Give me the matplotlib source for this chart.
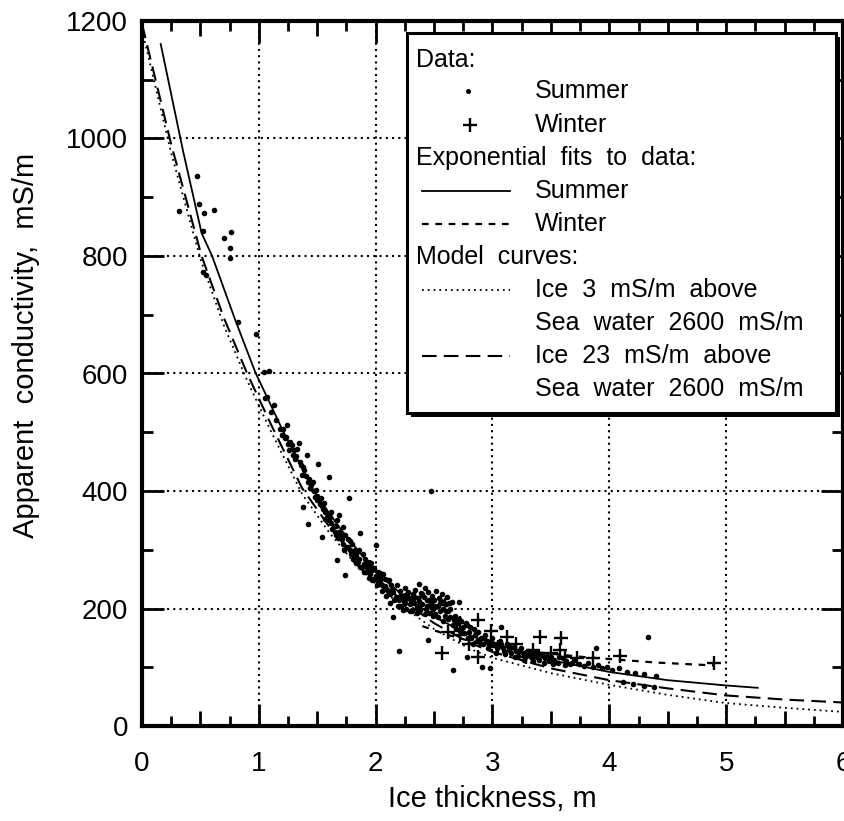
import matplotlib
matplotlib.use("Agg")
import matplotlib.pyplot as plt
from matplotlib.lines import Line2D
from matplotlib.patches import Rectangle
from matplotlib.ticker import MultipleLocator, FixedLocator

plt.rcParams['font.family'] = ['Liberation Sans', 'DejaVu Sans']

# ---------------- data ----------------
summer_x = [0.47, 0.32, 0.49, 0.53, 0.62, 0.76, 0.70, 0.75, 0.75, 0.52, 0.52, 0.55, 0.82, 0.98, 1.04, 1.09, 1.07, 1.13, 1.05,
            1.10, 1.15, 1.18, 1.20, 1.22, 1.25, 1.27, 1.30, 1.32, 1.34, 1.35, 1.38, 1.38, 1.40, 1.41, 1.42, 1.42, 1.45, 1.47, 1.48,
            1.50, 1.51, 1.52, 1.54, 1.55, 1.57, 1.58, 1.60, 1.60, 1.62, 1.63, 1.65, 1.66, 1.67, 1.68, 1.69, 1.70, 1.72, 1.74, 1.75,
            1.76, 1.77, 1.78, 1.80, 1.81, 1.83, 1.85, 1.86, 1.87, 1.88, 1.90, 1.92, 1.93, 1.95, 1.97, 1.98, 2.00, 2.00, 2.02, 2.04,
            2.05, 2.07, 2.08, 2.10, 2.12, 2.13, 2.15, 2.15, 2.17,
            2.20, 2.20, 2.21, 2.22, 2.23, 2.24, 2.25, 2.26, 2.27, 2.28, 2.29, 2.30, 2.31, 2.32, 2.33, 2.34, 2.35, 2.36, 2.37, 2.37,
            2.38, 2.39, 2.40, 2.41, 2.42, 2.43, 2.44, 2.45, 2.45, 2.46, 2.47, 2.47, 2.48, 2.49, 2.50, 2.51, 2.52, 2.53, 2.54, 2.55,
            2.56, 2.57, 2.58, 2.59, 2.60, 2.61, 2.62, 2.63, 2.64, 2.65, 2.66,
            2.67, 2.68, 2.70, 2.71, 2.72, 2.73, 2.75, 2.76, 2.78, 2.78, 2.80, 2.82, 2.84, 2.85, 2.87, 2.88, 2.90, 2.91, 2.92, 2.94,
            2.95, 2.97, 2.98, 3.00, 3.02, 3.04, 3.06, 3.07, 3.08, 3.10, 3.12, 3.14, 3.16, 3.18, 3.20, 3.22, 3.24, 3.26, 3.28, 3.30,
            3.32, 3.34, 3.36, 3.38, 3.40, 3.42, 3.45, 3.48, 3.50, 3.53, 3.56, 3.60, 3.63, 3.66, 3.70, 3.74, 3.78, 3.82, 3.86, 3.89,
            3.90, 3.94, 3.98, 4.02, 4.08, 4.15, 4.22, 4.30, 4.33, 4.40, 4.12, 4.20, 4.30, 4.38,
            1.21, 1.23, 1.24, 1.26, 1.28, 1.29, 1.31, 1.33, 1.36, 1.37, 1.39, 1.43, 1.44, 1.46, 1.49, 1.50, 1.53, 1.54, 1.56, 1.57,
            1.59, 1.61, 1.62, 1.64, 1.66, 1.67, 1.69, 1.71, 1.72, 1.73, 1.74, 1.76, 1.78, 1.79, 1.80, 1.82, 1.83, 1.84, 1.86, 1.87,
            1.89, 1.90, 1.91, 1.93, 1.94, 1.96, 1.97, 1.99, 2.01, 2.02, 2.03, 2.05, 2.06, 2.08, 2.09, 2.11, 2.12, 2.14, 2.16, 2.18,
            2.19, 2.21, 2.23, 2.25, 2.27, 2.29, 2.31, 2.33, 2.35, 2.38, 2.40, 2.42, 2.44, 2.46, 2.49, 2.51, 2.53, 2.55, 2.58, 2.60,
            2.62, 2.64, 2.66, 2.68, 2.69, 2.71, 2.74, 2.77, 2.79, 2.81, 2.83, 2.86, 2.89, 2.93, 2.96, 2.99, 3.03, 3.07, 3.11, 3.15,
            3.19, 3.23, 3.27, 3.31, 3.35, 3.39, 3.44, 3.47, 3.52, 3.57, 3.62, 3.68]
summer_y = [937, 876, 888, 874, 879, 841, 830, 814, 796, 842, 773, 768, 688, 668, 603, 605, 560, 546, 558,
            535, 520, 505, 495, 490, 480, 484, 470, 460, 481, 450, 440, 373, 425, 461, 415, 344, 410, 400, 390,
            385, 446, 378, 322, 370, 365, 355, 424, 350, 345, 335, 330, 340, 283, 320, 359, 325, 310, 257, 305,
            318, 388, 300, 295, 285, 290, 280, 300, 329, 270, 275, 262, 280, 258, 265, 250, 308, 255, 245, 260,
            240, 235, 250, 232, 225, 240, 185, 228, 220,
            128, 215, 230, 205, 222, 212, 235, 200, 218, 228, 208, 215, 196, 225, 210, 232, 203, 218, 242, 212,
            198, 226, 207, 220, 235, 200, 214, 146, 228, 193, 400, 210, 222, 200, 215, 190, 230, 205, 218, 195,
            212, 225, 200, 188, 208, 220, 195, 210, 185, 211, 96,
            180, 170, 175, 211, 162, 178, 168, 158, 118, 172, 160, 150, 165, 155, 145, 160, 150, 101, 140, 155,
            145, 138, 98, 150, 140, 132, 145, 169, 135, 128, 140, 130, 125, 135, 128, 120, 132, 124, 118, 128,
            120, 115, 125, 118, 112, 122, 115, 110, 118, 112, 108, 115, 110, 105, 112, 106, 102, 108, 100, 132,
            104, 98, 100, 95, 98, 92, 90, 88, 152, 85, 75, 72, 68, 66,
            505, 492, 512, 470, 478, 462, 455, 472, 445, 428, 436, 420, 405, 415, 402, 392, 388, 375, 380, 352,
            360, 355, 365, 340, 325, 350, 330, 318, 338, 300, 325, 305, 315, 292, 310, 300, 278, 296, 285, 270,
            292, 262, 285, 270, 252, 278, 248, 268, 240, 262, 252, 230, 258, 238, 222, 248, 210, 232, 215, 240,
            205, 222, 198, 210, 225, 195, 215, 220, 192, 208, 225, 190, 205, 215, 188, 205, 185, 210, 178, 195,
            182, 200, 172, 188, 165, 182, 160, 175, 150, 168, 140, 158, 142, 150, 132, 145, 125, 140, 122, 135,
            118, 128, 112, 122, 110, 125, 108, 120, 105, 118, 103, 108]

winter_x = [1.95, 2.05, 2.25, 2.34, 2.48, 2.59, 2.57, 2.62, 2.72, 2.72, 2.80, 2.88, 2.88, 2.99, 3.05, 3.12, 3.20,
            3.29, 3.35, 3.41, 3.50, 3.58, 3.59, 3.62, 3.72, 3.86, 4.09, 4.90]
winter_y = [270, 250, 215, 220, 203, 206, 124, 160, 155, 175, 140, 180, 118, 161, 135, 152, 140,
            118, 129, 152, 125, 129, 149, 118, 115, 116, 119, 107]

# exponential fits
fit_summer_x = [0.16, 0.35, 0.51, 0.60, 0.80, 0.97, 1.20, 1.47, 1.70, 2.00, 2.20, 2.50, 2.80, 3.00, 3.50, 4.00, 4.50, 5.00, 5.27]
fit_summer_y = [1161, 980, 839, 800, 690, 602, 505, 400, 335, 262, 228, 186, 155, 140, 112, 92, 78, 69, 65]
fit_winter_x = [2.40, 2.60, 2.80, 3.00, 3.20, 3.40, 3.60, 3.80, 4.00, 4.20, 4.40, 4.60, 4.90]
fit_winter_y = [170, 156, 145, 137, 130, 125, 121, 117, 114, 111, 108, 106, 103]

# model curves
model3_x = [0.0, 0.25, 0.50, 0.70, 0.90, 1.10, 1.37, 1.60, 1.80, 2.00, 2.20, 2.50, 2.80, 3.00, 3.50, 4.00, 4.50, 5.00, 5.50, 6.00]
model3_y = [1185, 975, 795, 682, 588, 503, 395, 330, 282, 242, 208, 165, 132, 116, 90, 70, 53, 39, 31, 24]
model23_x = [0.0, 0.25, 0.51, 0.70, 0.90, 1.10, 1.37, 1.60, 1.80, 2.00, 2.20, 2.50, 2.80, 3.00, 3.50, 4.00, 4.50, 5.00, 5.50, 6.00]
model23_y = [1195, 990, 800, 695, 600, 515, 405, 340, 292, 252, 218, 175, 142, 126, 98, 78, 64, 52, 45, 40]

x_ticks = [0, 1, 2, 3, 4, 5, 6]
y_ticks = [0, 200, 400, 600, 800, 1000, 1200]

# ---------------- figure ----------------
W, H = 845, 821
fig = plt.figure(figsize=(W / 100, H / 100), dpi=100)
ax = fig.add_axes([142 / W, 1 - 726 / H, 701 / W, 705 / H])

ax.set_xlim(0, 6)
ax.set_ylim(0, 1200)

ls_grid = (0, (1.0, 2.0))
ax.grid(True, which='major', color='black', linestyle=ls_grid, linewidth=1.5)
ax.set_axisbelow(True)

ax.plot(model3_x, model3_y, color='black', lw=1.3, linestyle=(0, (1.0, 2.2)))
ax.plot(model23_x, model23_y, color='black', lw=1.5, linestyle=(0, (7, 3.5)))
ax.plot(fit_summer_x, fit_summer_y, color='black', lw=1.3, linestyle='-')
ax.plot(fit_winter_x, fit_winter_y, color='black', lw=1.6, linestyle=(0, (3, 3)))
ax.plot(summer_x, summer_y, linestyle='none', marker='o', markersize=3.0, color='black')
ax.plot(winter_x, winter_y, linestyle='none', marker='+', markersize=10, markeredgewidth=1.7, color='black')

ax.set_xticks(x_ticks)
ax.set_yticks(y_ticks)
minor_x = [q / 4 for q in range(25) if q % 4 != 0]
ax.xaxis.set_minor_locator(FixedLocator(minor_x))
ax.yaxis.set_minor_locator(MultipleLocator(100))

for sp in ax.spines.values():
    sp.set_linewidth(3)

ax.tick_params(which='both', direction='in', top=True, right=True, width=2, colors='black')
ax.tick_params(axis='x', which='major', length=16, pad=18, labelsize=20)
ax.tick_params(axis='y', which='major', length=16, pad=10, labelsize=20)
ax.tick_params(axis='x', which='minor', length=7)
ax.tick_params(axis='y', which='minor', length=8)
ax.set_xticklabels([str(v) for v in x_ticks])
ax.set_yticklabels([str(v) for v in y_ticks])

# half-unit minor ticks slightly longer
mticks = ax.xaxis.get_minor_ticks(len(minor_x))
for loc, t in zip(minor_x, mticks):
    if abs(loc * 2 - round(loc * 2)) < 1e-9:
        t.tick1line.set_markersize(11)
        t.tick2line.set_markersize(11)

ax.set_xlabel('Ice thickness, m', fontsize=21, labelpad=6)
ax.set_ylabel('Apparent  conductivity,  mS/m', fontsize=21)
ax.yaxis.set_label_coords(-0.145, 0.54)

# ---------------- legend box (drawn in figure pixels) ----------------
def fx(px):
    return px / W

def fy(py):
    return 1 - py / H

L, R, T, B = 407, 836, 33, 413
shadow = Rectangle((fx(L + 4), fy(B + 4)), fx(R) - fx(L), fy(T) - fy(B), transform=fig.transFigure,
                   facecolor='black', edgecolor='black', lw=0, zorder=5)
box = Rectangle((fx(L), fy(B)), fx(R) - fx(L), fy(T) - fy(B), transform=fig.transFigure,
                facecolor='white', edgecolor='black', lw=2.2, zorder=6)
fig.add_artist(shadow)
fig.add_artist(box)

fs = 18
tx_head = 416
tx_lab = 535
rows = [
    ('Data:', None, 60),
    ('Summer', 'dot', 91),
    ('Winter', 'plus', 125),
    ('Exponential  fits  to  data:', None, 158),
    ('Summer', 'solid', 191),
    ('Winter', 'winterfit', 224),
    ('Model  curves:', None, 257),
    ('Ice  3  mS/m  above', 'model3', 290),
    ('Sea  water  2600  mS/m', 'blank', 323),
    ('Ice  23  mS/m  above', 'model23', 356),
    ('Sea  water  2600  mS/m', 'blank', 389),
]
styles = {
    'solid': dict(linestyle='-', lw=1.3),
    'winterfit': dict(linestyle=(0, (3, 3)), lw=1.6),
    'model3': dict(linestyle=(0, (1.0, 2.2)), lw=1.3),
    'model23': dict(linestyle=(0, (7, 3.5)), lw=1.5),
}
for label, kind, py in rows:
    if kind is None:
        fig.text(fx(tx_head), fy(py), label, fontsize=fs, va='center', ha='left', zorder=7)
        continue
    fig.text(fx(tx_lab), fy(py), label, fontsize=fs, va='center', ha='left', zorder=7)
    if kind == 'dot':
        fig.add_artist(Line2D([fx(468)], [fy(py)], marker='o', markersize=2.6, color='black',
                              linestyle='none', transform=fig.transFigure, zorder=7))
    elif kind == 'plus':
        fig.add_artist(Line2D([fx(470)], [fy(py)], marker='+', markersize=10, markeredgewidth=1.7,
                              color='black', linestyle='none', transform=fig.transFigure, zorder=7))
    elif kind in styles:
        fig.add_artist(Line2D([fx(422), fx(510)], [fy(py), fy(py)], color='black',
                              transform=fig.transFigure, zorder=7, **styles[kind]))

fig.savefig('out.png', dpi=100)
